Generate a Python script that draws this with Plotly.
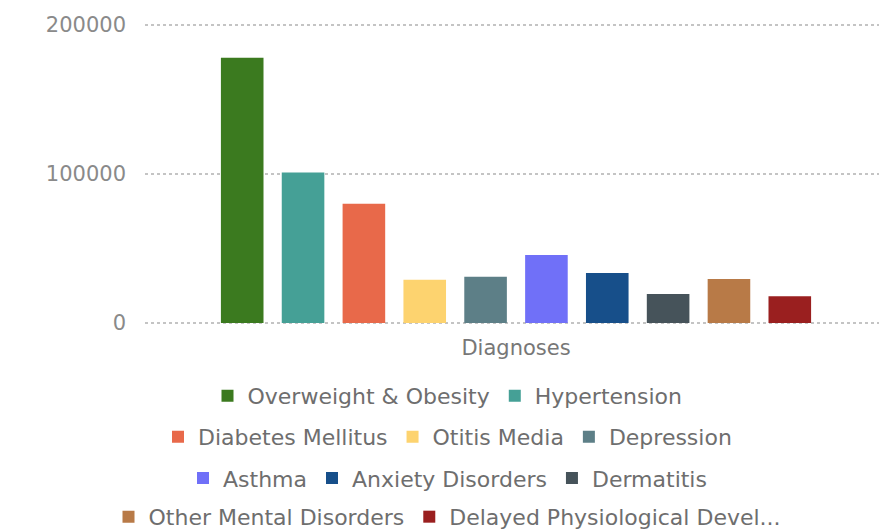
import plotly.graph_objects as go

categories = ["Diagnoses"]
series_names = [
    "Overweight & Obesity", "Hypertension", "Diabetes Mellitus", "Otitis Media",
    "Depression", "Asthma", "Anxiety Disorders", "Dermatitis",
    "Other Mental Disorders", "Delayed Physiological Devel...",
]
series_values = [178000, 101000, 80000, 29000, 31000, 45600, 33500, 19500, 29500, 18000]
series_colors = [
    "#3B7A1F", "#45A096", "#E8694A", "#FDD36F", "#5D7F87",
    "#7070F8", "#174F8A", "#46535A", "#B87A47", "#9A1F1F",
]
legend_rows = ["legend", "legend", "legend2", "legend2", "legend2",
               "legend3", "legend3", "legend3", "legend4", "legend4"]
y_ticks = [0, 100000, 200000]

fig = go.Figure()
for name, val, col, lg in zip(series_names, series_values, series_colors, legend_rows):
    fig.add_trace(go.Bar(x=categories, y=[val], name=name, marker_color=col,
                         marker_line_width=0, legend=lg))

FONT = "DejaVu Sans"
legend_common = dict(orientation="h", xref="container", yref="container",
                     x=0.5, xanchor="center", yanchor="middle",
                     font=dict(family=FONT, size=22, color="#6E6E6E"),
                     bgcolor="rgba(0,0,0,0)", itemclick=False)

# page body has an 8px margin, so the figure is sized/offset to compensate
fig.update_layout(
    width=879, height=523,
    margin=dict(l=137, r=0, t=14, b=205),
    paper_bgcolor="white", plot_bgcolor="white",
    barmode="group", bargap=0.18, bargroupgap=0.3,
    showlegend=True,
    legend=dict(y=0.258, **legend_common),
    legend2=dict(y=0.180, **legend_common),
    legend3=dict(y=0.101, **legend_common),
    legend4=dict(y=0.027, **legend_common),
    xaxis=dict(showgrid=False, showline=False, zeroline=False,
               tickfont=dict(family=FONT, size=21, color="#777777"),
               ticklabelstandoff=7),
    yaxis=dict(range=[-2000, 202000], tickvals=y_ticks, ticktext=[str(v) for v in y_ticks],
               showgrid=True, gridcolor="#C4C4C4", griddash="dot", gridwidth=1.5,
               zeroline=False, showline=False,
               tickfont=dict(family=FONT, size=21, color="#8A8A8A"),
               ticklabelstandoff=18),
)

fig.write_html("out.html")
